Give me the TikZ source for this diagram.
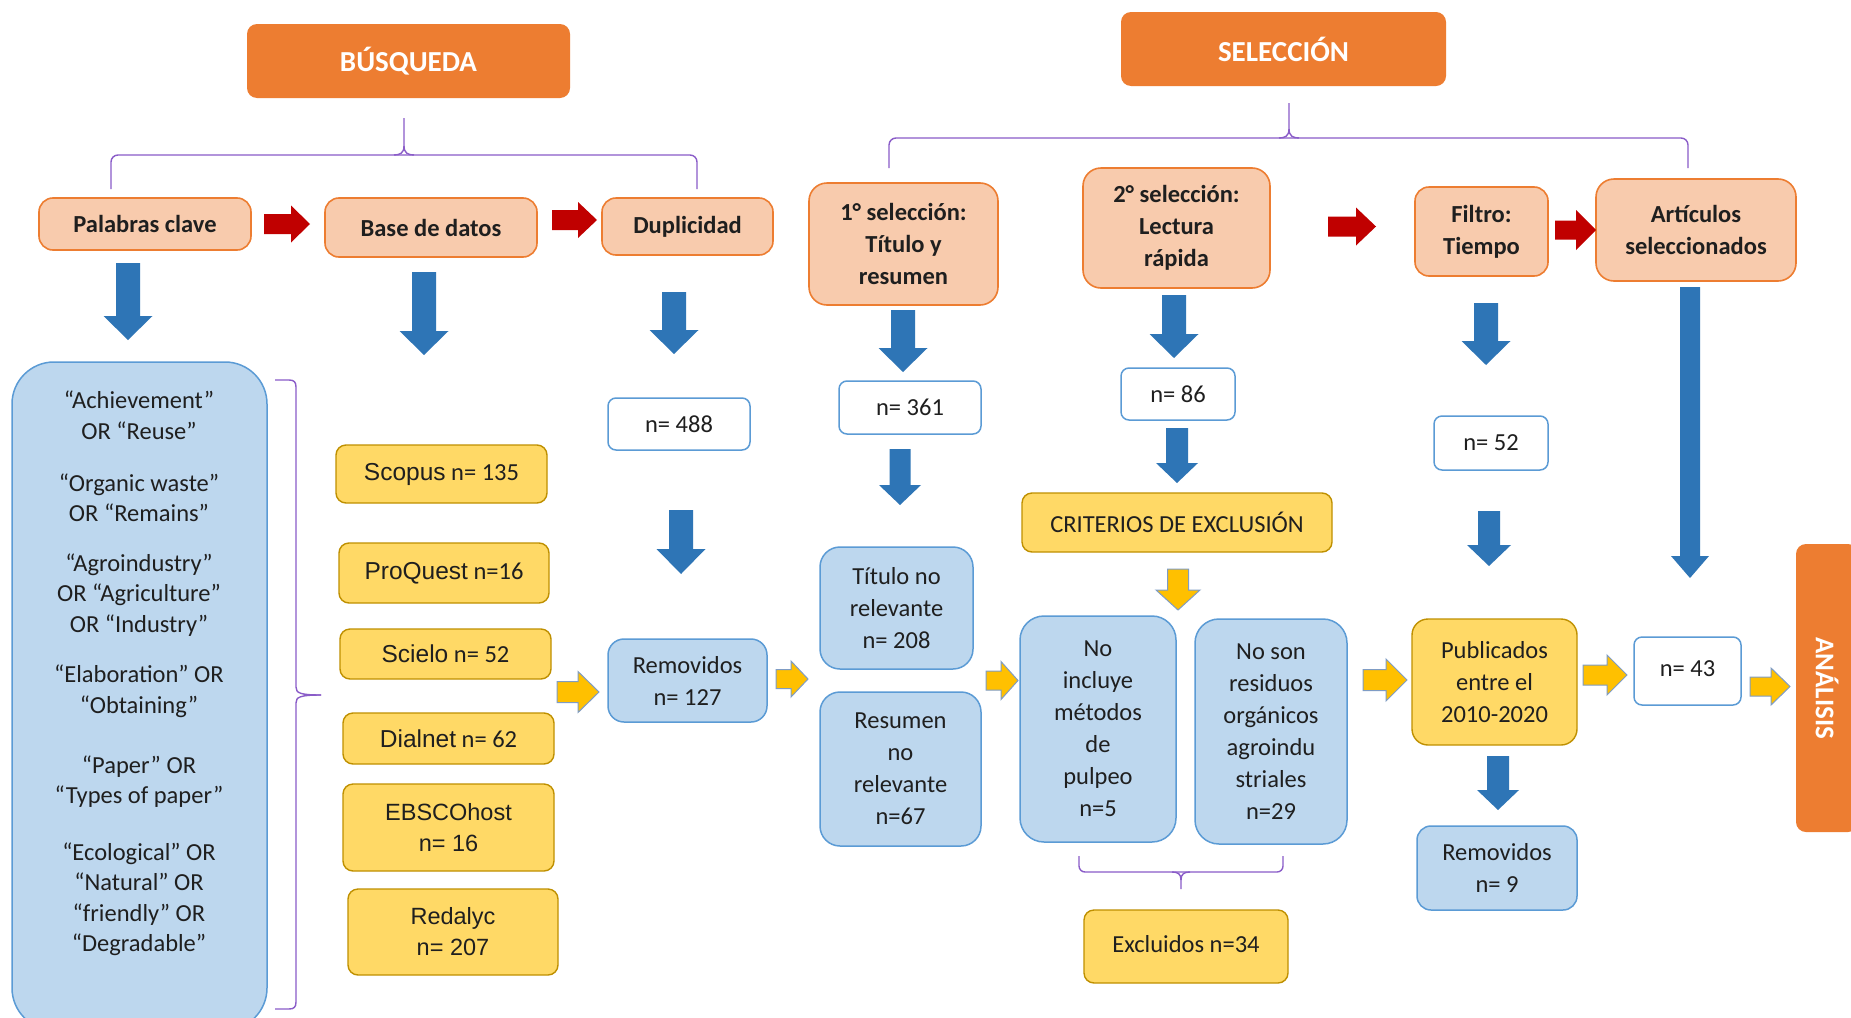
\documentclass[tikz,border=0pt]{standalone}
\usepackage{fontspec}
\setmainfont{Carlito}
\newfontfamily\arialf{Liberation Sans}
\definecolor{orng}{HTML}{ED7D31}
\definecolor{peachf}{HTML}{F8CBAD}
\definecolor{yelf}{HTML}{FFD966}
\definecolor{yeld}{HTML}{BF9000}
\definecolor{lbf}{HTML}{BDD7EE}
\definecolor{lbd}{HTML}{5B9BD5}
\definecolor{barr}{HTML}{2E75B6}
\definecolor{rarr}{HTML}{C00000}
\definecolor{yarr}{HTML}{FFC000}
\definecolor{yarrd}{HTML}{7F9CC4}
\definecolor{brkc}{HTML}{8A5CC8}
\definecolor{txt}{HTML}{1F1F1F}
% down block arrow: x, ytop, ybot, shaft half, head half, head length, style
\newcommand\arrD[7]{\path[#7] (#1-#4,#2) -- (#1+#4,#2) -- (#1+#4,#3-#6) -- (#1+#5,#3-#6) -- (#1,#3) -- (#1-#5,#3-#6) -- (#1-#4,#3-#6) -- cycle;}
% right block arrow: xleft, xright, yc, shaft half, head half, head length, style
\newcommand\arrR[7]{\path[#7] (#1,#3-#4) -- (#2-#6,#3-#4) -- (#2-#6,#3-#5) -- (#2,#3) -- (#2-#6,#3+#5) -- (#2-#6,#3+#4) -- (#1,#3+#4) -- cycle;}
\tikzset{
 bx/.style={font=\fontsize{24.5}{32}\selectfont, text=txt, align=center, inner sep=0pt},
 ttl/.style={bx, fill=orng, rounded corners=10pt, text=white, font=\fontsize{29}{34}\selectfont\bfseries},
 peach/.style={bx, fill=peachf, draw=orng, line width=1.6pt, rounded corners=14pt, font=\fontsize{24.5}{32}\selectfont\bfseries},
 ybox/.style={bx, fill=yelf, draw=yeld, line width=1.4pt, rounded corners=10pt},
 lbox/.style={bx, fill=lbf, draw=lbd, line width=1.5pt, rounded corners=20pt},
 wbox/.style={bx, fill=white, draw=lbd, line width=1.5pt, rounded corners=8pt},
 kwtext/.style={bx, font=\fontsize{24.5}{30.5}\selectfont},
 barrow/.style={fill=barr},
 rarrow/.style={fill=rarr},
 yarrow/.style={fill=yarr, draw=yarrd, line width=1pt},
 brk/.style={draw=brkc, line width=1.4pt},
}
\begin{document}
\begin{tikzpicture}[x=1pt,y=-1pt]
\useasboundingbox (0,0) rectangle (1851,1017);
\fill[white] (0,0) rectangle (1851,1017);
\clip (0,0) rectangle (1851,1017);

% brackets
\draw[brk, rounded corners=7pt] (111,189) -- (111,155) -- (697,155) -- (697,189);
\draw[brk] (404,118) -- (404,146) .. controls (404,153) and (400,155) .. (394,155);
\draw[brk] (404,146) .. controls (404,153) and (408,155) .. (414,155);
\draw[brk, rounded corners=7pt] (889,168) -- (889,138) -- (1688,138) -- (1688,168);
\draw[brk] (1289,103) -- (1289,129) .. controls (1289,136) and (1285,138) .. (1279,138);
\draw[brk] (1289,129) .. controls (1289,136) and (1293,138) .. (1299,138);
\draw[brk, rounded corners=6pt] (1079,856) -- (1079,872) -- (1283,872) -- (1283,856);
\draw[brk] (1181,889) -- (1181,880) .. controls (1181,874) and (1178,872) .. (1172,872);
\draw[brk] (1181,880) .. controls (1181,874) and (1184,872) .. (1190,872);
\draw[brk] (275,380) -- (289,380) .. controls (294,380) and (296,382) .. (296,387) -- (296,687) .. controls (296,693) and (300,695) .. (321,695);
\draw[brk] (321,695) .. controls (300,695) and (296,697) .. (296,703) -- (296,1002) .. controls (296,1007) and (294,1009) .. (289,1009) -- (275,1009);

% titles
\node[ttl, minimum width=323pt, minimum height=74pt] (busq) at (408.5,61) {BÚSQUEDA};
\node[ttl, minimum width=325pt, minimum height=74pt] (sel) at (1283.5,49) {SELECCIÓN};
\node[ttl, rotate=-90, minimum width=288pt, minimum height=62pt, font=\fontsize{27}{30}\selectfont\bfseries] (ana) at (1827,688) {ANÁLISIS};

% peach boxes
\node[peach, minimum width=212pt, minimum height=52pt] (pal) at (145,224) {Palabras clave};
\node[peach, minimum width=212pt, minimum height=59pt] (bd) at (431,227.5) {Base de datos};
\node[peach, minimum width=171pt, minimum height=57pt] (dup) at (687.5,226.5) {Duplicidad};
\node[peach, minimum width=189pt, minimum height=122pt, rounded corners=18pt] (s1) at (903.5,244) {1° selección:\\Título y\\resumen};
\node[peach, minimum width=187pt, minimum height=120pt, rounded corners=18pt] (s2) at (1176.5,228) {2° selección:\\Lectura\\rápida};
\node[peach, minimum width=133pt, minimum height=89pt] (fil) at (1481.5,231.5) {Filtro:\\Tiempo};
\node[peach, minimum width=200pt, minimum height=102pt, rounded corners=18pt] (art) at (1696,230) {Artículos\\seleccionados};

% keywords
\node[lbox, rounded corners=42pt, minimum width=255pt, minimum height=668pt] (kw) at (139.5,696) {};
\node[kwtext] (k1) at (139,415) {“Achievement”\\OR “Reuse”};
\node[kwtext] (k2) at (139,497.5) {“Organic waste”\\OR “Remains”};
\node[kwtext] (k3) at (139,595) {“Agroindustry”\\OR “Agriculture”\\OR “Industry”};
\node[kwtext] (k4) at (139,691.5) {“Elaboration” OR\\“Obtaining”};
\node[kwtext] (k5) at (139,781.5) {“Paper” OR\\“Types of paper”};
\node[kwtext] (k6) at (139,899.5) {“Ecological” OR\\“Natural” OR\\“friendly” OR\\“Degradable”};

% databases
\node[ybox, minimum width=211pt, minimum height=58pt] (scopus) at (441.5,474) {{\arialf Scopus} n= 135};
\node[ybox, minimum width=210pt, minimum height=60pt] (proq) at (444,573) {{\arialf ProQuest} n=16};
\node[ybox, minimum width=211pt, minimum height=50pt] (scielo) at (445.5,654) {{\arialf Scielo} n= 52};
\node[ybox, minimum width=211pt, minimum height=51pt] (dialnet) at (448.5,738.5) {{\arialf Dialnet} n= 62};
\node[ybox, minimum width=211pt, minimum height=87pt, font=\arialf\fontsize{23.5}{31}\selectfont] (ebsco) at (448.5,827.5) {EBSCOhost\\n= 16};
\node[ybox, minimum width=210pt, minimum height=86pt, font=\arialf\fontsize{23.5}{31}\selectfont] (redalyc) at (453,932) {Redalyc\\n= 207};

% counts and results
\node[wbox, minimum width=142pt, minimum height=52pt] (n488) at (679,424) {n= 488};
\node[lbox, minimum width=159pt, minimum height=83pt, rounded corners=16pt] (rem1) at (687.5,680.5) {Removidos\\n= 127};
\node[wbox, minimum width=142pt, minimum height=53pt] (n361) at (910,407.5) {n= 361};
\node[lbox, minimum width=153pt, minimum height=122pt] (tit) at (896.5,608) {Título no\\relevante\\n= 208};
\node[lbox, minimum width=161pt, minimum height=154pt] (res) at (900.5,769) {Resumen\\no\\relevante\\n=67};
\node[wbox, minimum width=114pt, minimum height=52pt] (n86) at (1178,394) {n= 86};
\node[ybox, minimum width=310pt, minimum height=59pt] (crit) at (1177,522.5) {CRITERIOS DE EXCLUSIÓN};
\node[lbox, minimum width=156pt, minimum height=226pt, rounded corners=24pt] (noinc) at (1098,729) {No\\incluye\\métodos\\de\\pulpeo\\n=5};
\node[lbox, minimum width=152pt, minimum height=225pt, rounded corners=24pt] (noson) at (1271,731.5) {No son\\residuos\\orgánicos\\agroindu\\striales\\n=29};
\node[ybox, minimum width=204pt, minimum height=73pt] (excl) at (1186,946.5) {\raisebox{5pt}{Excluidos n=34}};
\node[wbox, minimum width=114pt, minimum height=54pt] (n52) at (1491,443) {n= 52};
\node[ybox, minimum width=165pt, minimum height=126pt, rounded corners=16pt] (pub) at (1494.5,682) {Publicados\\entre el\\2010-2020};
\node[lbox, minimum width=160pt, minimum height=84pt, rounded corners=14pt] (rem2) at (1497,868) {Removidos\\n= 9};
\node[wbox, minimum width=107pt, minimum height=68pt] (n43) at (1687.5,671) {\raisebox{5pt}{n= 43}};

% red arrows
\arrR{264}{310}{224}{10}{18.5}{19}{rarrow}
\arrR{552}{597}{220}{10}{18}{19}{rarrow}
\arrR{1328}{1376}{226.5}{10}{19}{20}{rarrow}
\arrR{1555}{1596}{230}{9.5}{20}{20}{rarrow}

% blue arrows
\arrD{128}{263}{340}{12}{24.5}{24}{barrow}
\arrD{424}{272}{355}{12}{24.5}{24}{barrow}
\arrD{674}{292}{354}{12}{24.5}{24}{barrow}
\arrD{681}{510}{574}{12}{24.5}{25}{barrow}
\arrD{903}{310}{372}{12}{24.5}{24}{barrow}
\arrD{900}{449}{505}{10.5}{21}{20}{barrow}
\arrD{1174}{295}{358}{12}{24.5}{24}{barrow}
\arrD{1177}{428}{483}{11}{21}{20}{barrow}
\arrD{1486}{303}{365}{12}{24.5}{24}{barrow}
\arrD{1489}{511}{566}{11}{22}{21}{barrow}
\arrD{1690}{287}{578}{10}{19}{22}{barrow}
\arrD{1498}{756}{810}{11}{21}{20}{barrow}

% yellow arrows
\arrR{557}{599}{692}{10.5}{20.5}{21}{yarrow}
\arrR{776}{808}{679}{9.5}{18}{17}{yarrow}
\arrR{986}{1018}{680.5}{9.5}{19}{17}{yarrow}
\arrR{1363}{1407}{680}{10.5}{21}{21}{yarrow}
\arrR{1583}{1627}{675}{10}{20}{20}{yarrow}
\arrR{1750}{1790}{686.5}{9.5}{18.5}{19}{yarrow}
\arrD{1178}{569}{610}{10.5}{22}{20}{yarrow}
\end{tikzpicture}
\end{document}
